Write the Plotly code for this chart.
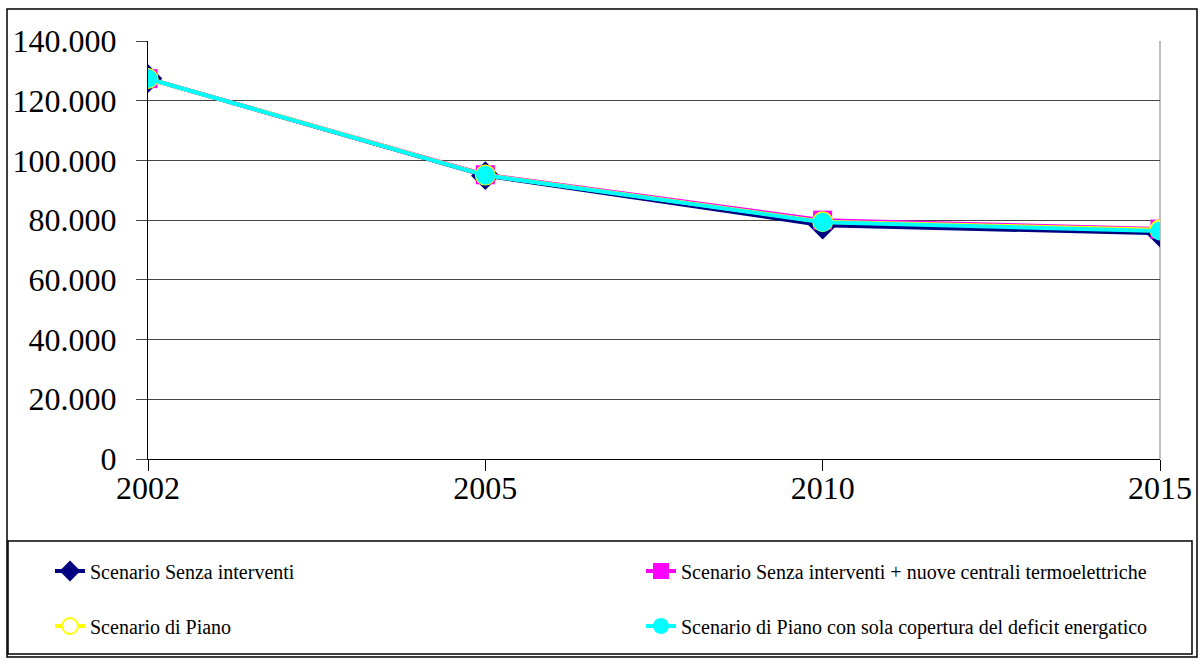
import plotly.graph_objects as go

anni = ["2002", "2005", "2010", "2015"]
senza_interventi = [127400, 94900, 78300, 75600]
senza_nuove_centrali = [127400, 95200, 80000, 77000]
di_piano = [127400, 95100, 79500, 76800]
piano_copertura_deficit = [127400, 95000, 79300, 76400]
tick_y = [0, 20000, 40000, 60000, 80000, 100000, 120000, 140000]

W, H = 1203, 664
L, R, T, B = 148, 43, 41, 205
pw, ph = W - L - R, H - T - B
FONT = "'Liberation Serif', 'Times New Roman', Times, 'DejaVu Serif', serif"


def px(x):
    return (x - L) / pw


def py(y):
    return (H - B - y) / ph


serie = [
    ("Scenario Senza interventi", senza_interventi, "#000080",
     dict(symbol="diamond", size=22, color="#000080"), "legend", 50, 571),
    ("Scenario Senza interventi + nuove centrali termoelettriche", senza_nuove_centrali, "#FF00FF",
     dict(symbol="square", size=19, color="#FF00FF"), "legend2", 641, 571),
    ("Scenario di Piano", di_piano, "#FFFF00",
     dict(symbol="circle", size=19, color="white", line=dict(color="#FFFF00", width=2)), "legend3", 50, 626),
    ("Scenario di Piano con sola copertura del deficit energatico", piano_copertura_deficit, "#00FFFF",
     dict(symbol="circle", size=19, color="#00FFFF"), "legend4", 641, 626),
]

fig = go.Figure()
legends = {}
for nome, valori, colore, marker, leg, lx, ly in serie:
    fig.add_trace(go.Scatter(x=anni, y=valori, name=nome, mode="lines+markers",
                             line=dict(color=colore, width=4), marker=marker, legend=leg))
    legends[leg] = dict(x=px(lx), y=py(ly), xanchor="left", yanchor="middle",
                        bgcolor="rgba(0,0,0,0)", borderwidth=0,
                        font=dict(family=FONT, size=20, color="black"))

fig.update_layout(
    width=W, height=H,
    margin=dict(l=L, r=R, t=T, b=B, autoexpand=False),
    paper_bgcolor="white", plot_bgcolor="white",
    separators=",.",
    font=dict(family=FONT, color="black"),
    showlegend=True,
    **legends,
    shapes=[
        # cornice esterna
        dict(type="rect", xref="paper", yref="paper", x0=px(7), x1=px(1197), y0=py(9), y1=py(657),
             line=dict(color="black", width=1.5), layer="below"),
        # riquadro legenda
        dict(type="rect", xref="paper", yref="paper", x0=px(8), x1=px(1192), y0=py(541), y1=py(654),
             line=dict(color="black", width=1.5), layer="below"),
        # bordo destro area grafico
        dict(type="line", xref="paper", yref="paper", x0=1, x1=1, y0=0, y1=1,
             line=dict(color="#808080", width=1), layer="below"),
    ],
)

fig.update_xaxes(type="category", range=[0, 3], showline=True, linecolor="black", linewidth=1,
                 ticks="outside", ticklen=11, tickcolor="black", showgrid=False,
                 ticklabelstandoff=-10,
                 tickfont=dict(size=32, family=FONT, color="black"))
fig.update_yaxes(range=[0, 140000], tickvals=tick_y, tickformat=",d", showline=True,
                 linecolor="black", linewidth=1, ticks="outside", ticklen=11, tickcolor="#444",
                 showgrid=True, gridcolor="#444", gridwidth=1, zeroline=False,
                 ticklabelstandoff=13,
                 tickfont=dict(size=32, family=FONT, color="black"))

fig.write_html("out.html", config={"displayModeBar": False},
               post_script="document.body.style.margin='0';")
